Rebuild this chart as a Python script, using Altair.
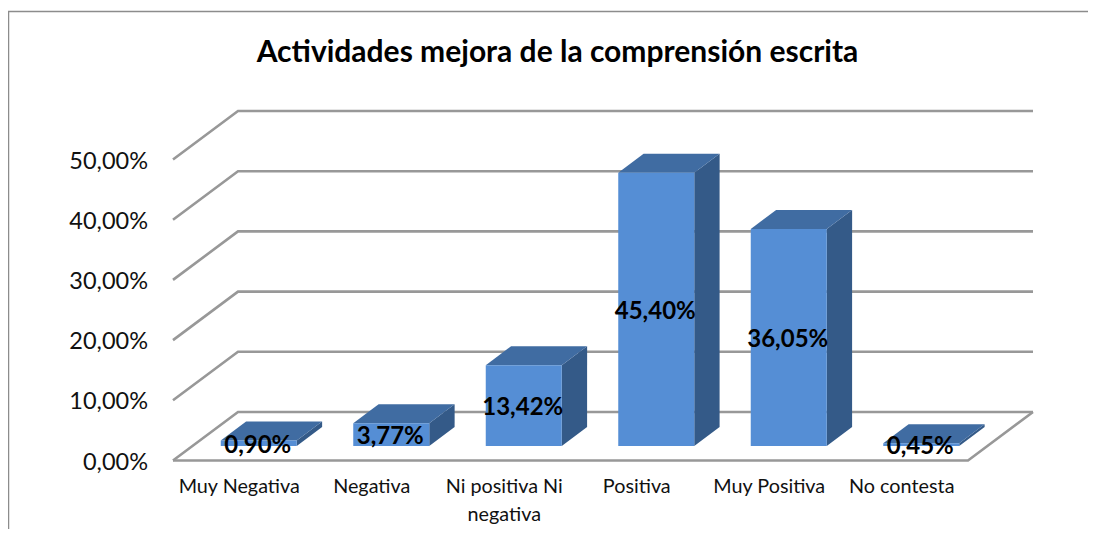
import altair as alt
import pandas as pd

categories = ["Muy Negativa", "Negativa", "Ni positiva Ni\nnegativa", "Positiva", "Muy Positiva", "No contesta"]
values = [0.90, 3.77, 13.42, 45.40, 36.05, 0.45]
ticks = [0, 10, 20, 30, 40, 50]
TITLE = "Actividades mejora de la comprensión escrita"

FONT = "Lato"
W, H = 1080, 521
PX_U, PX_V = 132.5, 6.02
X0, Y0 = 173.0, 460.5
DEPTH_U, DEPTH_V = 65 / PX_U, 48.5 / PX_V
D0, D1 = 0.30, 0.69
BAR_W = 76 / PX_U
GRID = "#989898"

xdom = [(8 - X0) / PX_U, (8 + W - X0) / PX_U]
ydom = [(Y0 - 8 - H) / PX_V, (Y0 - 8) / PX_V]
xs = alt.Scale(domain=xdom, nice=False, zero=False)
ys = alt.Scale(domain=ydom, nice=False, zero=False)


def X(f="x"):
    return alt.X(f"{f}:Q", scale=xs, axis=None)


def Y(f="y"):
    return alt.Y(f"{f}:Q", scale=ys, axis=None)


def pct(v):
    return f"{v:.2f}".replace(".", ",") + "%"


grid_rows = []
for t in ticks:
    grid_rows += [
        {"t": t, "o": 0, "x": 0, "y": t},
        {"t": t, "o": 1, "x": DEPTH_U, "y": t + DEPTH_V},
        {"t": t, "o": 2, "x": 6 + DEPTH_U, "y": t + DEPTH_V},
    ]
grid_rows += [
    {"t": -1, "o": 0, "x": 0, "y": 0},
    {"t": -1, "o": 1, "x": 6, "y": 0},
    {"t": -1, "o": 2, "x": 6 + DEPTH_U, "y": DEPTH_V},
]
grid_df = pd.DataFrame(grid_rows)

front, top, side, labels, cats = [], [], [], [], []
for i, (c, v) in enumerate(zip(categories, values)):
    l = i + 0.5 - BAR_W / 2
    r = i + 0.5 + BAR_W / 2
    ox0, oy0 = D0 * DEPTH_U, D0 * DEPTH_V
    ox1, oy1 = D1 * DEPTH_U, D1 * DEPTH_V
    front.append({"x": l + ox0, "x2": r + ox0, "y": oy0, "y2": v + oy0})
    top += [
        {"b": i, "y": v + oy0, "x": l + ox0, "x2": r + ox0},
        {"b": i, "y": v + oy1, "x": l + ox1, "x2": r + ox1},
    ]
    side += [
        {"b": i, "x": r + ox0, "y": oy0, "y2": v + oy0},
        {"b": i, "x": r + ox1, "y": oy1, "y2": v + oy1},
    ]
    labels.append({"x": i + 0.5 + ox0 - 1 / PX_U, "y": v / 2 + oy0 - 2.5 / PX_V, "text": pct(v)})
    cats.append({"x": i + 0.5, "y": -26.5 / PX_V, "text": c})

tick_df = pd.DataFrame(
    {"x": [(148 - X0) / PX_U] * len(ticks), "y": [t - 2.0 / PX_V for t in ticks], "text": [pct(t) for t in ticks]}
)

grid = (
    alt.Chart(grid_df)
    .mark_line(color=GRID, strokeWidth=2.6, strokeJoin="miter", interpolate="linear")
    .encode(x=X(), y=Y(), detail="t:N", order="o:Q")
)

tick_l = alt.Chart(tick_df).mark_text(
    font=FONT, fontSize=23.5, color="#111111", align="right", baseline="middle"
).encode(x=X(), y=Y(), text="text:N")

front_l = alt.Chart(pd.DataFrame(front)).mark_rect(color="#558ed5").encode(
    x=X(), x2="x2:Q", y=Y(), y2="y2:Q"
)
top_l = alt.Chart(pd.DataFrame(top)).mark_area(color="#406ca2", orient="horizontal", opacity=1).encode(
    y=Y(), x=X(), x2="x2:Q", detail="b:N"
)
side_l = alt.Chart(pd.DataFrame(side)).mark_area(color="#345a88", orient="vertical", opacity=1).encode(
    x=X(), y=Y(), y2="y2:Q", detail="b:N"
)
label_l = alt.Chart(pd.DataFrame(labels)).mark_text(
    font=FONT, fontSize=24, fontWeight="bold", color="#000000", align="center", baseline="middle"
).encode(x=X(), y=Y(), text="text:N")
cat_l = alt.Chart(pd.DataFrame(cats)).mark_text(
    font=FONT, fontSize=19.8, color="#111111", align="center", baseline="middle", lineBreak="\n", lineHeight=28
).encode(x=X(), y=Y(), text="text:N")

border_top = alt.Chart(pd.DataFrame({"a": [0]})).mark_rule(color="#8c8c8c", strokeWidth=1.5).encode(
    x=alt.value(0), x2=alt.value(W), y=alt.value(3.5)
)
border_left = alt.Chart(pd.DataFrame({"a": [0]})).mark_rule(color="#8c8c8c", strokeWidth=1.5).encode(
    x=alt.value(0.5), y=alt.value(3.5), y2=alt.value(H)
)

chart = (
    alt.layer(grid, border_top, border_left, side_l, top_l, front_l, tick_l, cat_l, label_l)
    .properties(
        width=W,
        height=H,
        padding=0,
        background="#ffffff",
        autosize=alt.AutoSizeParams(type="none", contains="padding"),
        title=alt.TitleParams(
            TITLE, anchor="middle", frame="group", dx=9.5, dy=64, font=FONT, fontSize=30, fontWeight="bold", color="#000000"
        ),
    )
    .configure_view(stroke=None)
)

chart.save("out.html", embed_options={"renderer": "svg", "actions": False})
